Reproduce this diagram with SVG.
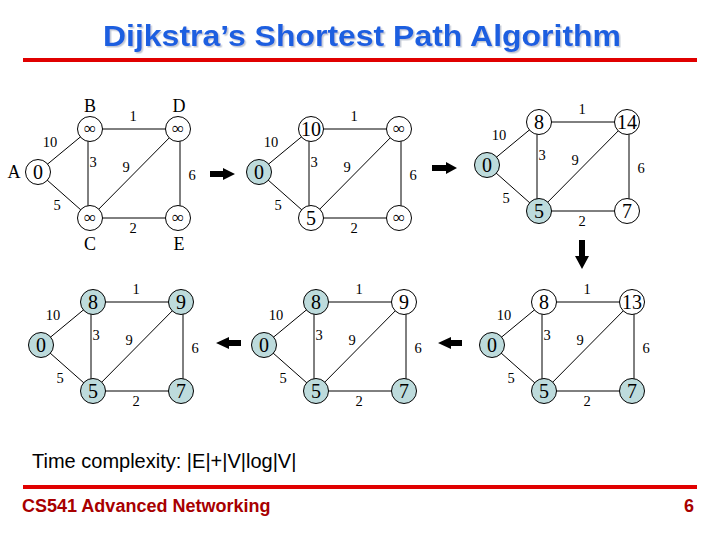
<svg xmlns="http://www.w3.org/2000/svg" width="720" height="540" viewBox="0 0 720 540">
<defs>
<style>
.e{stroke:#000;stroke-width:1;fill:none}
.n{fill:#fff;stroke:#000;stroke-width:1}
.v{fill:#bddbdc;stroke:#000;stroke-width:1}
.num{font-family:"Liberation Serif","Times New Roman",serif;font-size:20px;text-anchor:middle;fill:#000}
.inf{font-family:"Liberation Serif","DejaVu Serif",serif;font-size:17px;text-anchor:middle;fill:#000}
.w{font-family:"Liberation Serif","Times New Roman",serif;font-size:14.5px;text-anchor:middle;fill:#000}
.lbl{font-family:"Liberation Serif","Times New Roman",serif;font-size:18px;text-anchor:middle;fill:#000}
.bar{stroke:#e00000;stroke-width:4}
.arr{fill:#000}
</style>
<filter id="sh" x="-5%" y="-20%" width="110%" height="150%">
<feDropShadow dx="1.5" dy="1.5" stdDeviation="0.6" flood-color="#9aa4b8" flood-opacity="0.6"/>
</filter>
</defs>
<rect width="720" height="540" fill="#fff"/>

<text x="362" y="46" text-anchor="middle" font-family="Liberation Sans, Arial, sans-serif" font-weight="bold" font-size="30" fill="#1e5fe0" textLength="518" lengthAdjust="spacingAndGlyphs" filter="url(#sh)">Dijkstra’s Shortest Path Algorithm</text>
<line class="bar" x1="23" y1="60" x2="697" y2="60"/>

<g id="connectors">
<!-- G1 -->
<line class="e" x1="38" y1="172" x2="90" y2="129"/>
<line class="e" x1="38" y1="172" x2="90" y2="218"/>
<line class="e" x1="90" y1="129" x2="178" y2="129"/>
<line class="e" x1="88" y1="129" x2="88" y2="218"/>
<line class="e" x1="180" y1="129" x2="180" y2="218"/>
<line class="e" x1="90" y1="218" x2="178" y2="129"/>
<line class="e" x1="90" y1="218" x2="178" y2="218"/>
<!-- G2 -->
<line class="e" x1="259" y1="172" x2="311" y2="129"/>
<line class="e" x1="259" y1="172" x2="311" y2="218"/>
<line class="e" x1="311" y1="129" x2="399" y2="129"/>
<line class="e" x1="309" y1="129" x2="309" y2="218"/>
<line class="e" x1="401" y1="129" x2="401" y2="218"/>
<line class="e" x1="311" y1="218" x2="399" y2="129"/>
<line class="e" x1="311" y1="218" x2="399" y2="218"/>
<!-- G3 -->
<line class="e" x1="487" y1="165" x2="539" y2="122"/>
<line class="e" x1="487" y1="165" x2="539" y2="211"/>
<line class="e" x1="539" y1="122" x2="627" y2="122"/>
<line class="e" x1="537" y1="122" x2="537" y2="211"/>
<line class="e" x1="629" y1="122" x2="629" y2="211"/>
<line class="e" x1="539" y1="211" x2="627" y2="122"/>
<line class="e" x1="539" y1="211" x2="627" y2="211"/>
<!-- G4 -->
<line class="e" x1="41" y1="345" x2="93" y2="302"/>
<line class="e" x1="41" y1="345" x2="93" y2="391"/>
<line class="e" x1="93" y1="302" x2="181" y2="302"/>
<line class="e" x1="91" y1="302" x2="91" y2="391"/>
<line class="e" x1="183" y1="302" x2="183" y2="391"/>
<line class="e" x1="93" y1="391" x2="181" y2="302"/>
<line class="e" x1="93" y1="391" x2="181" y2="391"/>
<!-- G5 -->
<line class="e" x1="264" y1="345" x2="316" y2="302"/>
<line class="e" x1="264" y1="345" x2="316" y2="391"/>
<line class="e" x1="316" y1="302" x2="404" y2="302"/>
<line class="e" x1="314" y1="302" x2="314" y2="391"/>
<line class="e" x1="406" y1="302" x2="406" y2="391"/>
<line class="e" x1="316" y1="391" x2="404" y2="302"/>
<line class="e" x1="316" y1="391" x2="404" y2="391"/>
<!-- G6 -->
<line class="e" x1="492" y1="345" x2="544" y2="302"/>
<line class="e" x1="492" y1="345" x2="544" y2="391"/>
<line class="e" x1="544" y1="302" x2="632" y2="302"/>
<line class="e" x1="542" y1="302" x2="542" y2="391"/>
<line class="e" x1="634" y1="302" x2="634" y2="391"/>
<line class="e" x1="544" y1="391" x2="632" y2="302"/>
<line class="e" x1="544" y1="391" x2="632" y2="391"/>
</g>

<g id="edge-labels">
<text class="w" x="50" y="147">10</text><text class="w" x="133" y="121">1</text><text class="w" x="93" y="167">3</text><text class="w" x="126" y="172">9</text><text class="w" x="192" y="180">6</text><text class="w" x="57" y="210">5</text><text class="w" x="133" y="233">2</text>
<text class="w" x="271" y="147">10</text><text class="w" x="354" y="121">1</text><text class="w" x="314" y="167">3</text><text class="w" x="347" y="172">9</text><text class="w" x="413" y="180">6</text><text class="w" x="278" y="210">5</text><text class="w" x="354" y="233">2</text>
<text class="w" x="499" y="140">10</text><text class="w" x="582" y="114">1</text><text class="w" x="542" y="160">3</text><text class="w" x="575" y="165">9</text><text class="w" x="641" y="173">6</text><text class="w" x="506" y="203">5</text><text class="w" x="582" y="226">2</text>
<text class="w" x="53" y="320">10</text><text class="w" x="136" y="294">1</text><text class="w" x="96" y="340">3</text><text class="w" x="129" y="345">9</text><text class="w" x="195" y="353">6</text><text class="w" x="60" y="383">5</text><text class="w" x="136" y="406">2</text>
<text class="w" x="276" y="320">10</text><text class="w" x="359" y="294">1</text><text class="w" x="319" y="340">3</text><text class="w" x="352" y="345">9</text><text class="w" x="418" y="353">6</text><text class="w" x="283" y="383">5</text><text class="w" x="359" y="406">2</text>
<text class="w" x="504" y="320">10</text><text class="w" x="587" y="294">1</text><text class="w" x="547" y="340">3</text><text class="w" x="580" y="345">9</text><text class="w" x="646" y="353">6</text><text class="w" x="511" y="383">5</text><text class="w" x="587" y="406">2</text>
</g>

<!-- Graph 1 -->
<g id="g1-A"><circle class="n" cx="38" cy="172" r="12.5"/><text class="num" x="38" y="179">0</text><text class="lbl" x="14" y="178">A</text></g>
<g id="g1-B"><circle class="n" cx="90" cy="129" r="12.5"/><text class="inf" x="90" y="134">∞</text><text class="lbl" x="90" y="112">B</text></g>
<g id="g1-D"><circle class="n" cx="178" cy="129" r="12.5"/><text class="inf" x="178" y="134">∞</text><text class="lbl" x="179" y="112">D</text></g>
<g id="g1-C"><circle class="n" cx="90" cy="218" r="12.5"/><text class="inf" x="90" y="223">∞</text><text class="lbl" x="90" y="250">C</text></g>
<g id="g1-E"><circle class="n" cx="178" cy="218" r="12.5"/><text class="inf" x="178" y="223">∞</text><text class="lbl" x="179" y="250">E</text></g>

<!-- Graph 2 -->
<g id="g2-A"><circle class="v" cx="259" cy="172" r="12.5"/><text class="num" x="259" y="179">0</text></g>
<g id="g2-B"><circle class="n" cx="311" cy="129" r="12.5"/><text class="num" x="311" y="136">10</text></g>
<g id="g2-D"><circle class="n" cx="399" cy="129" r="12.5"/><text class="inf" x="399" y="134">∞</text></g>
<g id="g2-C"><circle class="n" cx="311" cy="218" r="12.5"/><text class="num" x="311" y="225">5</text></g>
<g id="g2-E"><circle class="n" cx="399" cy="218" r="12.5"/><text class="inf" x="399" y="223">∞</text></g>

<!-- Graph 3 -->
<g id="g3-A"><circle class="v" cx="487" cy="165" r="12.5"/><text class="num" x="487" y="172">0</text></g>
<g id="g3-B"><circle class="n" cx="539" cy="122" r="12.5"/><text class="num" x="539" y="129">8</text></g>
<g id="g3-D"><circle class="n" cx="627" cy="122" r="12.5"/><text class="num" x="627" y="129">14</text></g>
<g id="g3-C"><circle class="v" cx="539" cy="211" r="12.5"/><text class="num" x="539" y="218">5</text></g>
<g id="g3-E"><circle class="n" cx="627" cy="211" r="12.5"/><text class="num" x="627" y="218">7</text></g>

<!-- Graph 4 (bottom left) -->
<g id="g4-A"><circle class="v" cx="41" cy="345" r="12.5"/><text class="num" x="41" y="352">0</text></g>
<g id="g4-B"><circle class="v" cx="93" cy="302" r="12.5"/><text class="num" x="93" y="309">8</text></g>
<g id="g4-D"><circle class="v" cx="181" cy="302" r="12.5"/><text class="num" x="181" y="309">9</text></g>
<g id="g4-C"><circle class="v" cx="93" cy="391" r="12.5"/><text class="num" x="93" y="398">5</text></g>
<g id="g4-E"><circle class="v" cx="181" cy="391" r="12.5"/><text class="num" x="181" y="398">7</text></g>

<!-- Graph 5 (bottom middle) -->
<g id="g5-A"><circle class="v" cx="264" cy="345" r="12.5"/><text class="num" x="264" y="352">0</text></g>
<g id="g5-B"><circle class="v" cx="316" cy="302" r="12.5"/><text class="num" x="316" y="309">8</text></g>
<g id="g5-D"><circle class="n" cx="404" cy="302" r="12.5"/><text class="num" x="404" y="309">9</text></g>
<g id="g5-C"><circle class="v" cx="316" cy="391" r="12.5"/><text class="num" x="316" y="398">5</text></g>
<g id="g5-E"><circle class="v" cx="404" cy="391" r="12.5"/><text class="num" x="404" y="398">7</text></g>

<!-- Graph 6 (bottom right) -->
<g id="g6-A"><circle class="v" cx="492" cy="345" r="12.5"/><text class="num" x="492" y="352">0</text></g>
<g id="g6-B"><circle class="n" cx="544" cy="302" r="12.5"/><text class="num" x="544" y="309">8</text></g>
<g id="g6-D"><circle class="n" cx="632" cy="302" r="12.5"/><text class="num" x="632" y="309">13</text></g>
<g id="g6-C"><circle class="v" cx="544" cy="391" r="12.5"/><text class="num" x="544" y="398">5</text></g>
<g id="g6-E"><circle class="v" cx="632" cy="391" r="12.5"/><text class="num" x="632" y="398">7</text></g>

<g id="step-arrows">
<polygon class="arr" points="210,171 223,171 223,168 235,174 223,180 223,177 210,177"/>
<polygon class="arr" points="432,165 446,165 446,162 457,168 446,174 446,171 432,171"/>
<polygon class="arr" points="579,240 585,240 585,256 589,256 582,269 575,256 579,256"/>
<polygon class="arr" points="216,343 229,337 229,340 241,340 241,346 229,346 229,349"/>
<polygon class="arr" points="438,343 451,337 451,340 462,340 462,346 451,346 451,349"/>
</g>

<text x="32" y="468" font-family="Liberation Sans, Arial, sans-serif" font-size="20" fill="#000">Time complexity: |E|+|V|log|V|</text>
<line class="bar" x1="23" y1="487" x2="697" y2="487"/>
<text x="22" y="512" font-family="Liberation Sans, Arial, sans-serif" font-weight="bold" font-size="18" fill="#a80000">CS541 Advanced Networking</text>
<text x="694" y="512" text-anchor="end" font-family="Liberation Sans, Arial, sans-serif" font-weight="bold" font-size="18" fill="#a80000">6</text>
</svg>
